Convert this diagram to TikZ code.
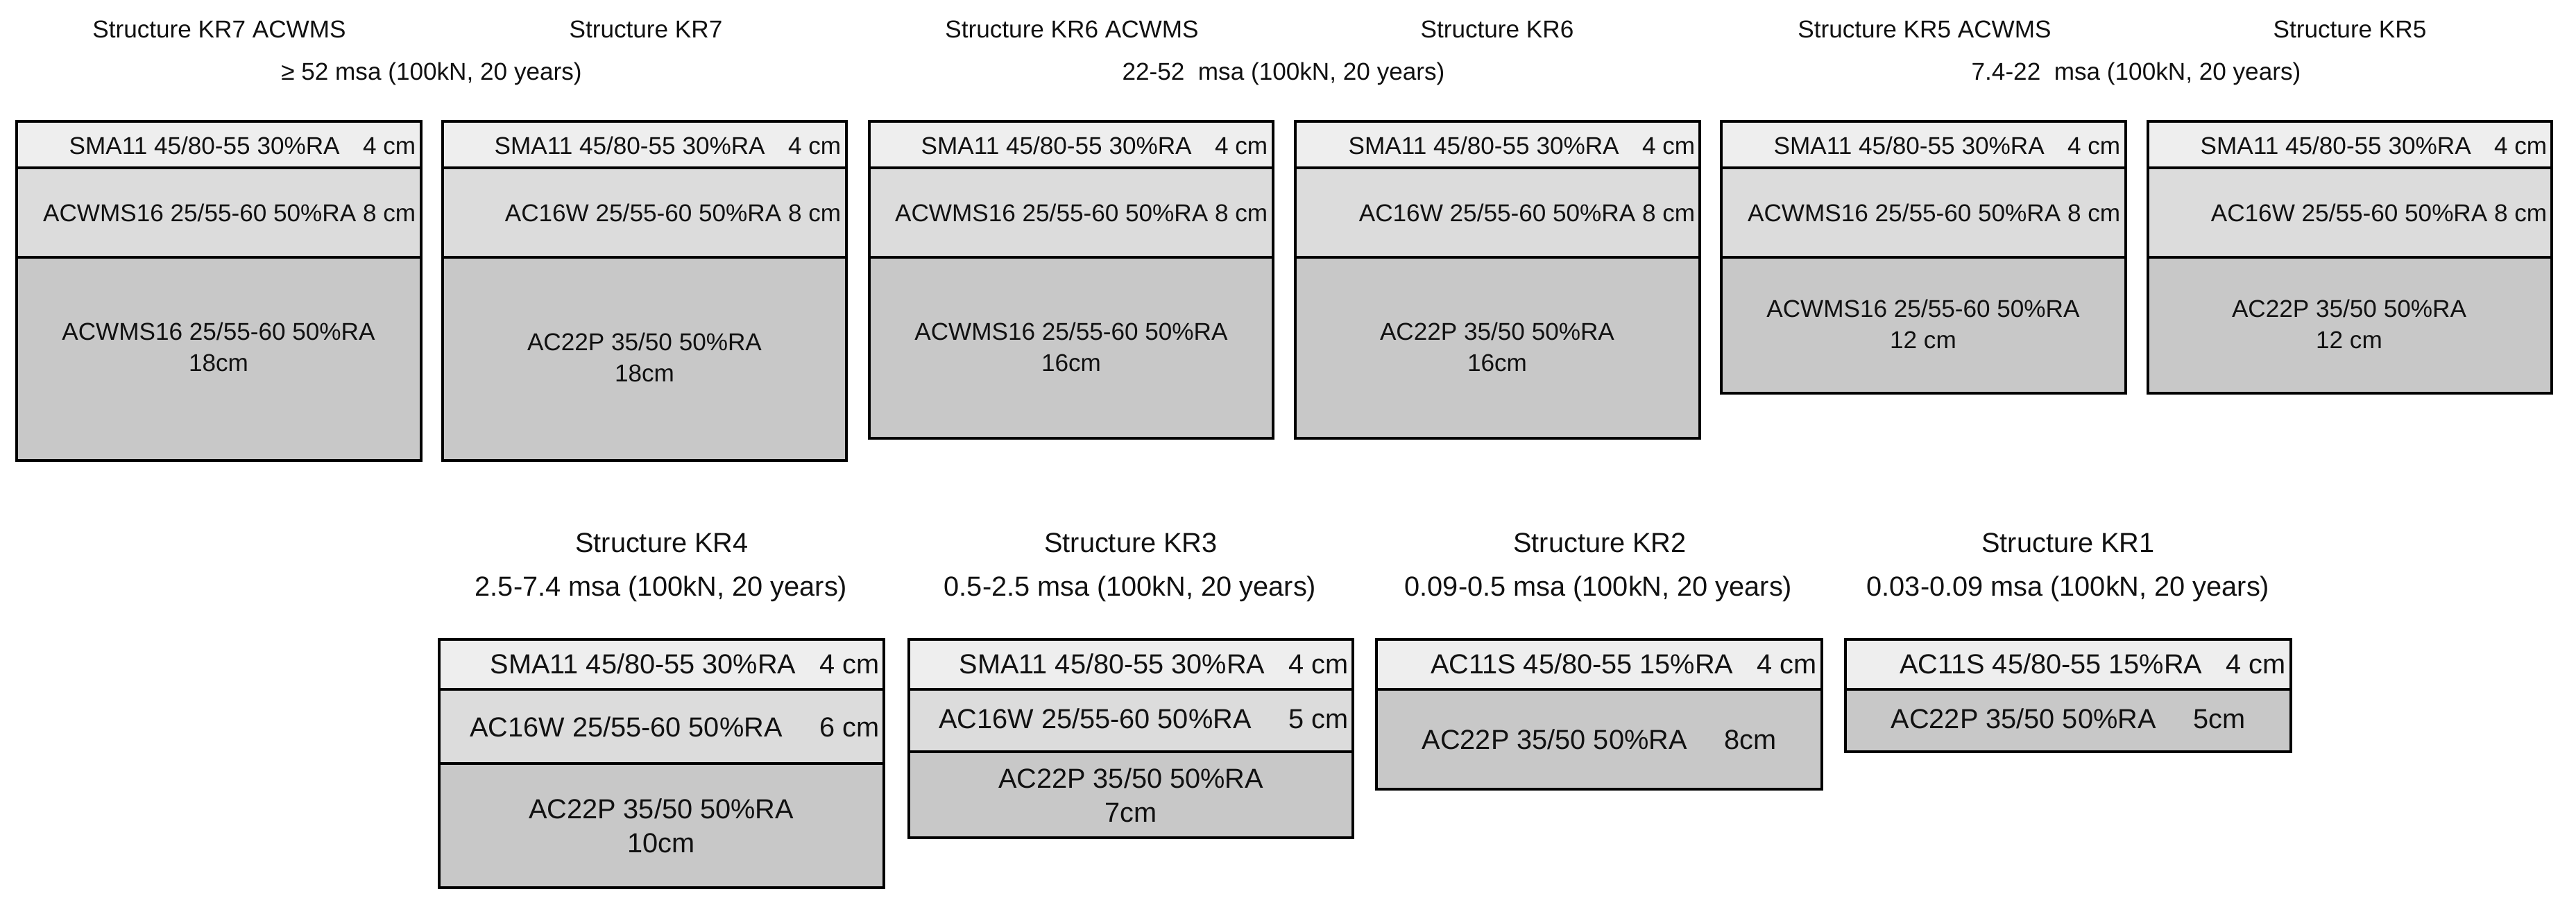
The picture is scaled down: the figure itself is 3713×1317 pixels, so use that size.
\documentclass[tikz,border=0pt]{standalone}
\usepackage{fontspec}
\setmainfont{Liberation Sans}
\definecolor{cA}{HTML}{EEEEEE}
\definecolor{cB}{HTML}{DCDCDC}
\definecolor{cC}{HTML}{C8C8C8}
\definecolor{txtc}{HTML}{111111}
\tikzset{
  lay/.style={draw=black, line width=0.42mm},
  tt/.style={inner sep=0pt, text=txtc, font=\fontsize{10}{12.8}\selectfont},
  tb/.style={inner sep=0pt, text=txtc, font=\fontsize{11.3}{13.9}\selectfont},
}
\begin{document}
\begin{tikzpicture}[x=0.1mm,y=-0.1mm]
\useasboundingbox (0,0) rectangle (3713,1317);

% ---------------- top row: boxes ----------------
\filldraw[lay, fill=cA] (24,175) rectangle (607,242);
\filldraw[lay, fill=cB] (24,242) rectangle (607,371);
\filldraw[lay, fill=cC] (24,371) rectangle (607,664);

\filldraw[lay, fill=cA] (638,175) rectangle (1220,242);
\filldraw[lay, fill=cB] (638,242) rectangle (1220,371);
\filldraw[lay, fill=cC] (638,371) rectangle (1220,664);

\filldraw[lay, fill=cA] (1253,175) rectangle (1835,242);
\filldraw[lay, fill=cB] (1253,242) rectangle (1835,371);
\filldraw[lay, fill=cC] (1253,371) rectangle (1835,632);

\filldraw[lay, fill=cA] (1867,175) rectangle (2450,242);
\filldraw[lay, fill=cB] (1867,242) rectangle (2450,371);
\filldraw[lay, fill=cC] (1867,371) rectangle (2450,632);

\filldraw[lay, fill=cA] (2481,175) rectangle (3064,242);
\filldraw[lay, fill=cB] (2481,242) rectangle (3064,371);
\filldraw[lay, fill=cC] (2481,371) rectangle (3064,567);

\filldraw[lay, fill=cA] (3096,175) rectangle (3678,242);
\filldraw[lay, fill=cB] (3096,242) rectangle (3678,371);
\filldraw[lay, fill=cC] (3096,371) rectangle (3678,567);

% ---------------- top row: titles ----------------
\node[tt, anchor=base] (t7a) at (316,54) {Structure KR7 ACWMS};
\node[tt, anchor=base] (t7)  at (931,54) {Structure KR7};
\node[tt, anchor=base] (s7)  at (622,115) {≥ 52 msa (100kN, 20 years)};
\node[tt, anchor=base] (t6a) at (1545,54) {Structure KR6 ACWMS};
\node[tt, anchor=base] (t6)  at (2158,54) {Structure KR6};
\node[tt, anchor=base] (s6)  at (1850,115) {22-52~ msa (100kN, 20 years)};
\node[tt, anchor=base] (t5a) at (2774,54) {Structure KR5 ACWMS};
\node[tt, anchor=base] (t5)  at (3387,54) {Structure KR5};
\node[tt, anchor=base] (s5)  at (3079,115) {7.4-22~ msa (100kN, 20 years)};

% ---------------- top row: layer texts ----------------
\node[tt, anchor=base east] (b1a) at (600,222) {SMA11 45/80-55 30\%RA\hspace{0.95em}4 cm};
\node[tt, anchor=base east] (b1b) at (600,319) {ACWMS16 25/55-60 50\%RA 8 cm};
\node[tt, align=center] (b1c) at (315,500) {ACWMS16 25/55-60 50\%RA\\18cm};

\node[tt, anchor=base east] (b2a) at (1213,222) {SMA11 45/80-55 30\%RA\hspace{0.95em}4 cm};
\node[tt, anchor=base east] (b2b) at (1213,319) {AC16W 25/55-60 50\%RA 8 cm};
\node[tt, align=center] (b2c) at (929,515) {AC22P 35/50 50\%RA\\18cm};

\node[tt, anchor=base east] (b3a) at (1828,222) {SMA11 45/80-55 30\%RA\hspace{0.95em}4 cm};
\node[tt, anchor=base east] (b3b) at (1828,319) {ACWMS16 25/55-60 50\%RA 8 cm};
\node[tt, align=center] (b3c) at (1544,500) {ACWMS16 25/55-60 50\%RA\\16cm};

\node[tt, anchor=base east] (b4a) at (2444,222) {SMA11 45/80-55 30\%RA\hspace{0.95em}4 cm};
\node[tt, anchor=base east] (b4b) at (2444,319) {AC16W 25/55-60 50\%RA 8 cm};
\node[tt, align=center] (b4c) at (2158,500) {AC22P 35/50 50\%RA\\16cm};

\node[tt, anchor=base east] (b5a) at (3057,222) {SMA11 45/80-55 30\%RA\hspace{0.95em}4 cm};
\node[tt, anchor=base east] (b5b) at (3057,319) {ACWMS16 25/55-60 50\%RA 8 cm};
\node[tt, align=center] (b5c) at (2772,467) {ACWMS16 25/55-60 50\%RA\\12 cm};

\node[tt, anchor=base east] (b6a) at (3672,222) {SMA11 45/80-55 30\%RA\hspace{0.95em}4 cm};
\node[tt, anchor=base east] (b6b) at (3672,319) {AC16W 25/55-60 50\%RA 8 cm};
\node[tt, align=center] (b6c) at (3386,467) {AC22P 35/50 50\%RA\\12 cm};

% ---------------- bottom row: boxes ----------------
\filldraw[lay, fill=cA] (633,922) rectangle (1274,994);
\filldraw[lay, fill=cB] (633,994) rectangle (1274,1101);
\filldraw[lay, fill=cC] (633,1101) rectangle (1274,1280);

\filldraw[lay, fill=cA] (1310,922) rectangle (1950,994);
\filldraw[lay, fill=cB] (1310,994) rectangle (1950,1084);
\filldraw[lay, fill=cC] (1310,1084) rectangle (1950,1208);

\filldraw[lay, fill=cA] (1984,922) rectangle (2626,994);
\filldraw[lay, fill=cC] (1984,994) rectangle (2626,1138);

\filldraw[lay, fill=cA] (2660,922) rectangle (3302,994);
\filldraw[lay, fill=cC] (2660,994) rectangle (3302,1084);

% ---------------- bottom row: titles ----------------
\node[tb, anchor=base] (t4) at (954,796) {Structure KR4};
\node[tb, anchor=base] (s4) at (953,859) {2.5-7.4 msa (100kN, 20 years)};
\node[tb, anchor=base] (t3) at (1630,796) {Structure KR3};
\node[tb, anchor=base] (s3) at (1629,859) {0.5-2.5 msa (100kN, 20 years)};
\node[tb, anchor=base] (t2) at (2306,796) {Structure KR2};
\node[tb, anchor=base] (s2) at (2304,859) {0.09-0.5 msa (100kN, 20 years)};
\node[tb, anchor=base] (t1) at (2981,796) {Structure KR1};
\node[tb, anchor=base] (s1) at (2981,859) {0.03-0.09 msa (100kN, 20 years)};

% ---------------- bottom row: layer texts ----------------
\node[tb, anchor=base east] (k4a) at (1268,971) {SMA11 45/80-55 30\%RA\hspace{0.85em}4 cm};
\node[tb, anchor=base east] (k4b) at (1268,1062) {AC16W 25/55-60 50\%RA\hspace{1.35em}6 cm};
\node[tb, align=center] (k4c) at (953,1191) {AC22P 35/50 50\%RA\\10cm};

\node[tb, anchor=base east] (k3a) at (1944,971) {SMA11 45/80-55 30\%RA\hspace{0.85em}4 cm};
\node[tb, anchor=base east] (k3b) at (1944,1050) {AC16W 25/55-60 50\%RA\hspace{1.35em}5 cm};
\node[tb, align=center] (k3c) at (1630,1147) {AC22P 35/50 50\%RA\\7cm};

\node[tb, anchor=base east] (k2a) at (2619,971) {AC11S 45/80-55 15\%RA\hspace{0.85em}4 cm};
\node[tb, anchor=base] (k2b) at (2305,1080) {AC22P 35/50 50\%RA\hspace{1.35em}8cm};

\node[tb, anchor=base east] (k1a) at (3295,971) {AC11S 45/80-55 15\%RA\hspace{0.85em}4 cm};
\node[tb, anchor=base] (k1b) at (2981,1050) {AC22P 35/50 50\%RA\hspace{1.35em}5cm};
\end{tikzpicture}
\end{document}
